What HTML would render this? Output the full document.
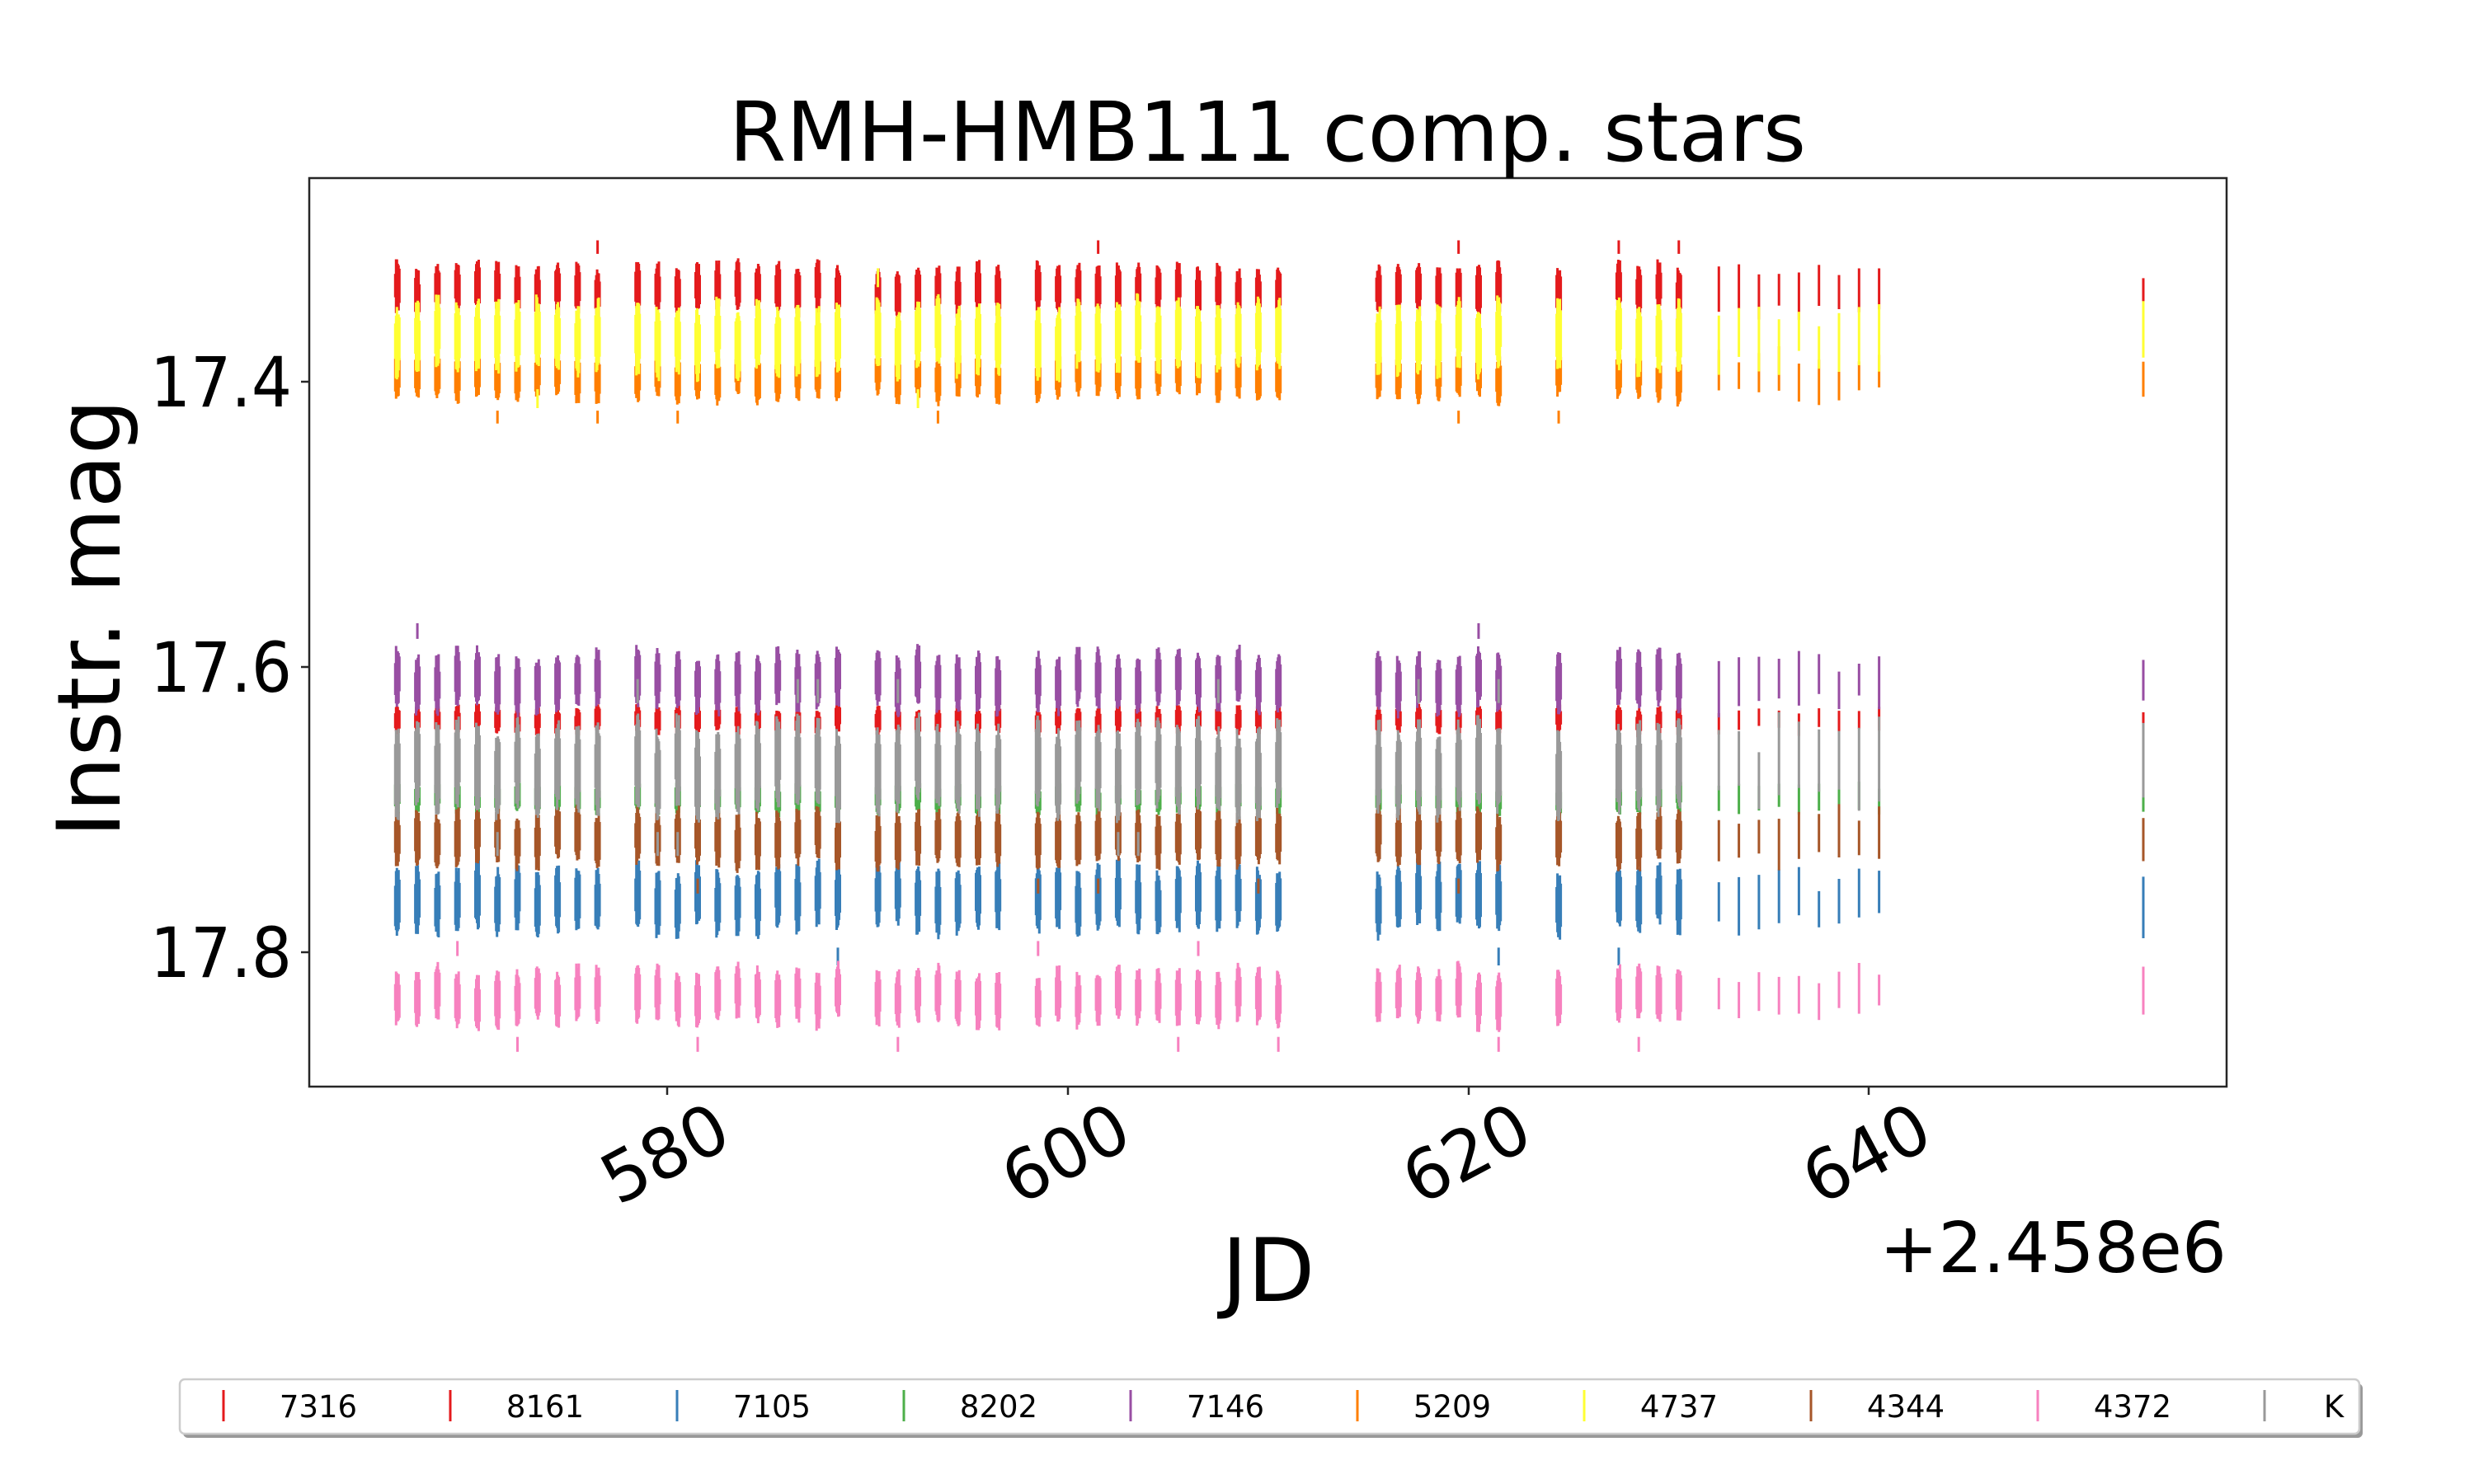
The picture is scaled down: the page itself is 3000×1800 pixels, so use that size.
<!DOCTYPE html>
<html><head><meta charset="utf-8"><style>
html,body{margin:0;padding:0;background:#fff;}
svg{display:block;}
text{font-family:"DejaVu Sans","Liberation Sans",sans-serif;fill:#000;}
</style></head><body>
<svg id="s" width="3000" height="1800" viewBox="0 0 3000 1800" xmlns="http://www.w3.org/2000/svg">
<rect width="3000" height="1800" fill="#fff"/>
<g id="data"></g>
<rect x="375" y="216" width="2325" height="1102" fill="none" stroke="#262626" stroke-width="2.5"/>
<g stroke="#262626" stroke-width="2.5">
<line x1="365" y1="463" x2="375" y2="463"/>
<line x1="365" y1="809" x2="375" y2="809"/>
<line x1="365" y1="1155" x2="375" y2="1155"/>
<line x1="809" y1="1318" x2="809" y2="1328"/>
<line x1="1295" y1="1318" x2="1295" y2="1328"/>
<line x1="1781" y1="1318" x2="1781" y2="1328"/>
<line x1="2266" y1="1318" x2="2266" y2="1328"/>
</g>
<g font-size="84">
<text x="182" y="493" textLength="172" lengthAdjust="spacingAndGlyphs">17.4</text>
<text x="182" y="839" textLength="172" lengthAdjust="spacingAndGlyphs">17.6</text>
<text x="182" y="1185" textLength="172" lengthAdjust="spacingAndGlyphs">17.8</text>
</g>
<g font-size="84" text-anchor="middle">
<text transform="translate(820,1425) rotate(-28)">580</text>
<text transform="translate(1306,1425) rotate(-28)">600</text>
<text transform="translate(1792,1425) rotate(-28)">620</text>
<text transform="translate(2277,1425) rotate(-28)">640</text>
</g>
<text x="2700" y="1543" font-size="85" text-anchor="end">+2.458e6</text>
<text x="1538" y="1578" font-size="106" text-anchor="middle">JD</text>
<text transform="translate(145,750) rotate(-90)" font-size="106" text-anchor="middle">Instr. mag</text>
<text x="1537" y="195" font-size="100" text-anchor="middle">RMH-HMB111 comp. stars</text>
<rect x="222" y="1678" width="2643" height="66" rx="6" fill="#999"/>
<rect x="218" y="1673" width="2643" height="66" rx="6" fill="#fff" stroke="#ccc" stroke-width="2.5"/>
<g id="leg" font-size="37" text-anchor="middle"></g>
</svg>
<script>
var stars=[
 ["7316","#e41a1c",17.317,17.355],
 ["8161","#e41a1c",17.627,17.648],
 ["7105","#377eb8",17.738,17.788],
 ["8202","#4daf4a",17.679,17.704],
 ["7146","#984ea3",17.588,17.632],
 ["5209","#ff7f00",17.378,17.414],
 ["4737","#ffff33",17.343,17.396],
 ["4344","#a65628",17.699,17.741],
 ["4372","#f781bf",17.810,17.852],
 ["K","#999999",17.637,17.704]
];
var nights=[];
function rng(a,b){for(var i=a;i<=b;i++)nights.push(i+0.5);}
rng(566,576);rng(578,588);rng(590,596);rng(598,610);rng(615,621);nights.push(624.5);rng(627,630);rng(632,640);nights.push(653.7);
var seed=12345;function r(){seed=(seed*16807)%2147483647;return (seed-1)/2147483646;}
function X(jd){return 375+(jd-562.1)*24.28;}
function Y(m){return 463+(m-17.4)*1730;}
var out=[];
stars.forEach(function(s){
 nights.forEach(function(n){
  var x0=X(n);
  var lo=s[2],hi=s[3],mid=(lo+hi)/2,h=(hi-lo)/2;
  if(n>=632){
   var len=h*(0.5+0.4*r());var c=mid+(r()-0.5)*h*0.6;
   out.push('<line x1="'+x0.toFixed(1)+'" x2="'+x0.toFixed(1)+'" y1="'+Y(c-len).toFixed(1)+'" y2="'+Y(c+len).toFixed(1)+'" stroke="'+s[1]+'" stroke-width="3"/>');
   return;
  }
  var sh=(r()-0.5)*h*0.4;
  for(var j=0;j<6;j++){
   var xx=x0+(j-2.5)*1.0;
   var a=lo+sh+h*0.3*r(),b=hi+sh-h*0.3*r();
   if(j==0||j==5){a+=h*0.3;b-=h*0.3;}
   out.push('<line x1="'+xx.toFixed(1)+'" x2="'+xx.toFixed(1)+'" y1="'+Y(a).toFixed(1)+'" y2="'+Y(b).toFixed(1)+'" stroke="'+s[1]+'" stroke-width="3"/>');
  }
  if(r()<0.12){var c2=(r()<0.5?lo-h*0.6:hi+h*0.6);out.push('<line x1="'+x0+'" x2="'+x0+'" y1="'+Y(c2-h*0.25).toFixed(1)+'" y2="'+Y(c2+h*0.25).toFixed(1)+'" stroke="'+s[1]+'" stroke-width="3"/>');}
 });
});
document.getElementById('data').innerHTML=out.join('');
var lg=[];
stars.forEach(function(s,i){
 var lx=271+275*i;
 lg.push('<line x1="'+lx+'" x2="'+lx+'" y1="1686" y2="1724" stroke="'+s[1]+'" stroke-width="3"/>');
 lg.push('<text x="'+(i==9?2830:386+275*i)+'" y="1719">'+s[0]+'</text>');
});
document.getElementById('leg').innerHTML=lg.join('');
</script>
</body></html>
